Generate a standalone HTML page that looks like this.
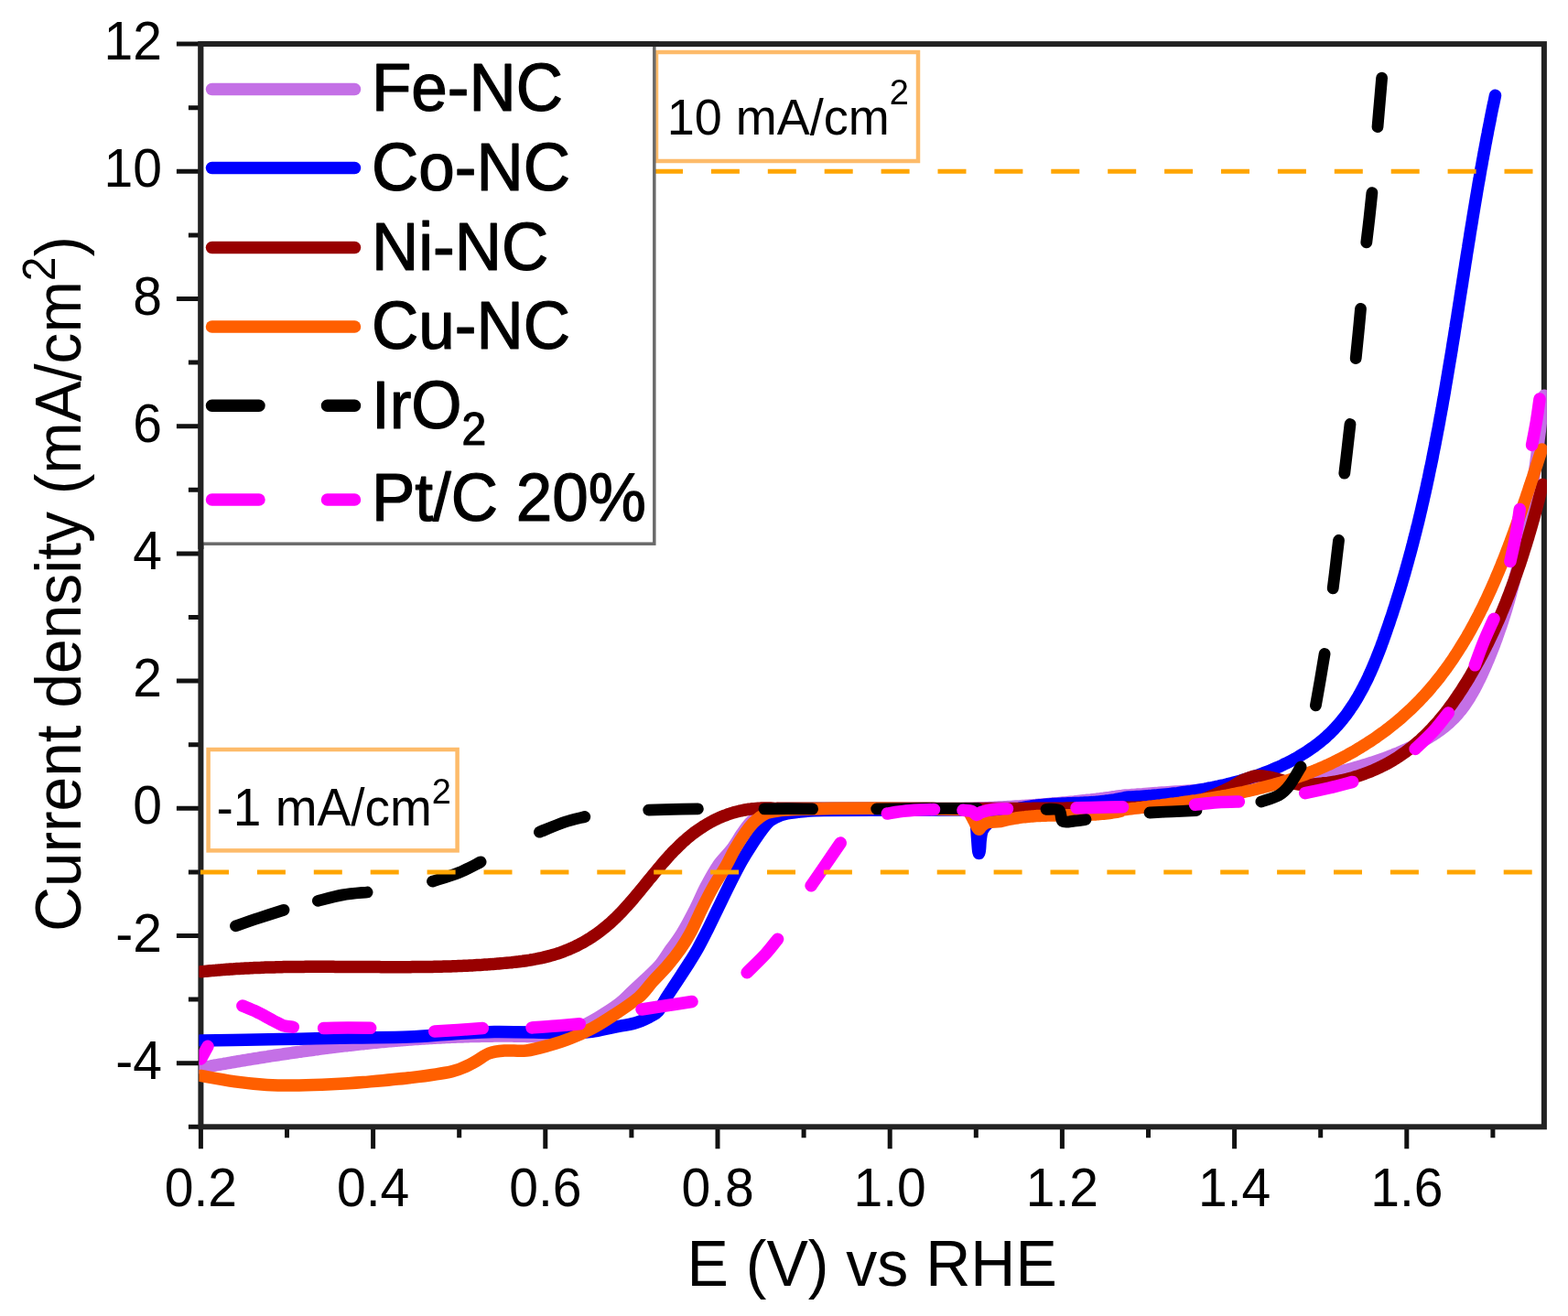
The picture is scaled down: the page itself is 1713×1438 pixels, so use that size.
<!DOCTYPE html><html><head><meta charset="utf-8"><title>LSV curves</title><style>html,body{margin:0;padding:0;background:#fff;}svg{display:block;}</style></head><body>
<svg width="1713" height="1438" viewBox="0 0 1713 1438" font-family="'Liberation Sans', Arial, Helvetica, sans-serif">
<rect width="1713" height="1438" fill="#fff"/>
<path d="M205.9 1231.3H219.4 M192.9 1161.7H219.4 M205.9 1092.1H219.4 M192.9 1022.5H219.4 M205.9 952.9H219.4 M192.9 883.3H219.4 M205.9 813.7H219.4 M192.9 744.1H219.4 M205.9 674.5H219.4 M192.9 604.9H219.4 M205.9 535.3H219.4 M192.9 465.7H219.4 M205.9 396.1H219.4 M192.9 326.5H219.4 M205.9 256.9H219.4 M192.9 187.3H219.4 M205.9 117.7H219.4 M192.9 48.1H219.4 M219.4 1231.3V1255.3 M313.5 1231.3V1243.3 M407.6 1231.3V1255.3 M501.7 1231.3V1243.3 M595.8 1231.3V1255.3 M689.9 1231.3V1243.3 M784.0 1231.3V1255.3 M878.1 1231.3V1243.3 M972.2 1231.3V1255.3 M1066.3 1231.3V1243.3 M1160.4 1231.3V1255.3 M1254.5 1231.3V1243.3 M1348.6 1231.3V1255.3 M1442.7 1231.3V1243.3 M1536.8 1231.3V1255.3 M1630.9 1231.3V1243.3" stroke="#111" stroke-width="5" fill="none"/>
<rect x="219.4" y="48.1" width="1467.5" height="1183.2" fill="none" stroke="#222" stroke-width="6"/>
<g font-size="57" fill="#000"><text transform="translate(177,1178.7) scale(1,1.04)" text-anchor="end">-4</text><text transform="translate(177,1039.5) scale(1,1.04)" text-anchor="end">-2</text><text transform="translate(177,900.3) scale(1,1.04)" text-anchor="end">0</text><text transform="translate(177,761.1) scale(1,1.04)" text-anchor="end">2</text><text transform="translate(177,621.9) scale(1,1.04)" text-anchor="end">4</text><text transform="translate(177,482.7) scale(1,1.04)" text-anchor="end">6</text><text transform="translate(177,343.5) scale(1,1.04)" text-anchor="end">8</text><text transform="translate(177,204.3) scale(1,1.04)" text-anchor="end">10</text><text transform="translate(177,65.1) scale(1,1.04)" text-anchor="end">12</text><text transform="translate(219.4,1317.5) scale(1,1.04)" text-anchor="middle">0.2</text><text transform="translate(407.6,1317.5) scale(1,1.04)" text-anchor="middle">0.4</text><text transform="translate(595.8,1317.5) scale(1,1.04)" text-anchor="middle">0.6</text><text transform="translate(784.0,1317.5) scale(1,1.04)" text-anchor="middle">0.8</text><text transform="translate(972.2,1317.5) scale(1,1.04)" text-anchor="middle">1.0</text><text transform="translate(1160.4,1317.5) scale(1,1.04)" text-anchor="middle">1.2</text><text transform="translate(1348.6,1317.5) scale(1,1.04)" text-anchor="middle">1.4</text><text transform="translate(1536.8,1317.5) scale(1,1.04)" text-anchor="middle">1.6</text></g>
<text transform="translate(952.7,1405) scale(1,1.04)" font-size="68" text-anchor="middle" fill="#000">E (V) vs RHE</text>
<text transform="translate(87.5,638) rotate(-90) scale(1,1.04)" font-size="67.7" text-anchor="middle" fill="#000">Current density (mA/cm<tspan font-size="48" dy="-26">2</tspan><tspan dy="26">)</tspan></text>
<defs><clipPath id="pc"><rect x="217.4" y="46.1" width="1472.5" height="1187.2"/></clipPath></defs>
<g clip-path="url(#pc)" fill="none" stroke-linecap="round" stroke-linejoin="round" stroke-width="13.5">
<path d="M219.5 1166.9 L221.5 1166.5 L223.5 1166.1 L225.5 1165.8 L227.6 1165.4 L229.6 1165.1 L231.6 1164.7 L233.6 1164.3 L235.6 1164.0 L237.6 1163.6 L239.6 1163.3 L241.6 1162.9 L243.7 1162.6 L245.7 1162.2 L247.7 1161.9 L249.7 1161.5 L251.7 1161.2 L253.7 1160.8 L255.7 1160.5 L257.8 1160.1 L259.8 1159.8 L261.8 1159.5 L263.8 1159.1 L265.8 1158.8 L267.8 1158.5 L269.8 1158.1 L271.9 1157.8 L273.9 1157.5 L275.9 1157.1 L277.9 1156.8 L279.9 1156.5 L281.9 1156.2 L283.9 1155.8 L285.9 1155.5 L288.0 1155.2 L290.0 1154.9 L292.0 1154.6 L294.0 1154.2 L296.0 1153.9 L298.0 1153.6 L300.0 1153.3 L302.1 1153.0 L304.1 1152.7 L306.1 1152.4 L308.1 1152.1 L310.1 1151.8 L312.1 1151.5 L314.1 1151.2 L316.2 1150.9 L318.2 1150.6 L320.2 1150.3 L322.2 1150.0 L324.2 1149.7 L326.2 1149.4 L328.2 1149.2 L330.2 1148.9 L332.3 1148.6 L334.3 1148.3 L336.3 1148.0 L338.3 1147.8 L340.3 1147.5 L342.3 1147.2 L344.3 1146.9 L346.4 1146.7 L348.4 1146.4 L350.4 1146.1 L352.4 1145.9 L354.4 1145.6 L356.4 1145.4 L358.4 1145.1 L360.5 1144.9 L362.5 1144.6 L364.5 1144.4 L366.5 1144.1 L368.5 1143.9 L370.5 1143.6 L372.5 1143.4 L374.5 1143.1 L376.6 1142.9 L378.6 1142.7 L380.6 1142.4 L382.6 1142.2 L384.6 1142.0 L386.6 1141.7 L388.6 1141.5 L390.7 1141.3 L392.7 1141.1 L394.7 1140.9 L396.7 1140.7 L398.7 1140.4 L400.7 1140.2 L402.7 1140.0 L404.8 1139.8 L406.8 1139.6 L408.8 1139.4 L410.8 1139.2 L412.8 1139.0 L414.8 1138.8 L416.8 1138.6 L418.8 1138.5 L420.9 1138.3 L422.9 1138.1 L424.9 1137.9 L426.9 1137.7 L428.9 1137.5 L430.9 1137.4 L432.9 1137.2 L435.0 1137.0 L437.0 1136.9 L439.0 1136.7 L441.0 1136.5 L443.0 1136.4 L445.0 1136.2 L447.0 1136.1 L449.0 1135.9 L451.1 1135.8 L453.1 1135.6 L455.1 1135.5 L457.1 1135.4 L459.1 1135.2 L461.1 1135.1 L463.1 1135.0 L465.2 1134.8 L467.2 1134.7 L469.2 1134.6 L471.2 1134.5 L473.2 1134.3 L475.2 1134.2 L477.2 1134.1 L479.3 1134.0 L481.3 1133.9 L483.3 1133.8 L485.3 1133.7 L487.3 1133.6 L489.3 1133.5 L491.3 1133.4 L493.3 1133.3 L495.4 1133.2 L497.4 1133.2 L499.4 1133.1 L501.4 1133.0 L503.4 1132.9 L505.4 1132.9 L507.4 1132.8 L509.5 1132.7 L511.5 1132.7 L513.5 1132.6 L515.5 1132.6 L517.5 1132.5 L519.5 1132.5 L521.5 1132.4 L523.6 1132.4 L525.6 1132.3 L527.6 1132.3 L529.6 1132.3 L531.6 1132.2 L533.6 1132.2 L535.6 1132.2 L537.6 1132.2 L539.7 1132.1 L541.7 1132.1 L543.7 1132.1 L545.7 1132.1 L547.7 1132.1 L549.7 1132.1 L551.7 1132.1 L553.8 1132.1 L555.8 1132.1 L557.8 1132.1 L559.8 1132.1 L561.8 1132.2 L563.8 1132.2 L565.8 1132.2 L567.9 1132.2 L569.9 1132.3 L571.9 1132.3 L573.9 1132.3 L575.9 1132.4 L577.9 1132.4 L579.9 1132.5 L581.9 1132.5 L584.0 1132.6 L586.0 1132.7 L588.0 1132.7 L590.0 1132.8 M590.0 1132.5 C593.0 1132.2 601.3 1132.4 608.0 1131.0 C614.7 1129.6 622.5 1127.2 630.0 1124.0 C637.5 1120.8 645.3 1116.5 653.0 1112.0 C660.7 1107.5 669.8 1101.7 676.0 1097.0 C682.2 1092.3 685.3 1088.3 690.0 1084.0 C694.7 1079.7 698.9 1075.8 704.0 1071.0 C709.1 1066.2 715.6 1060.6 720.4 1055.0 C725.2 1049.4 728.5 1043.3 732.6 1037.5 C736.7 1031.7 740.4 1027.5 744.9 1020.0 C749.4 1012.5 755.5 1001.0 759.8 992.5 C764.1 984.0 766.8 977.0 770.9 969.2 C775.0 961.4 779.7 952.6 784.4 945.8 C789.1 939.0 794.6 934.2 799.0 928.4 C803.4 922.6 807.2 915.7 810.5 910.9 C813.8 906.1 816.2 902.6 819.0 899.5 C821.8 896.4 824.2 894.4 827.0 892.5 C829.8 890.6 832.5 889.2 836.0 888.0 C839.5 886.8 842.3 886.1 848.0 885.5 C853.7 884.9 861.3 884.8 870.0 884.5 C878.7 884.2 895.0 884.1 900.0 884.0 M900.0 883.8 L902.0 883.9 L904.0 883.9 L906.0 884.0 L908.0 884.0 L910.1 884.1 L912.1 884.1 L914.1 884.1 L916.1 884.2 L918.1 884.2 L920.1 884.2 L922.1 884.3 L924.1 884.3 L926.2 884.4 L928.2 884.4 L930.2 884.4 L932.2 884.4 L934.2 884.5 L936.2 884.5 L938.2 884.5 L940.2 884.6 L942.3 884.6 L944.3 884.6 L946.3 884.6 L948.3 884.6 L950.3 884.7 L952.3 884.7 L954.3 884.7 L956.3 884.7 L958.4 884.7 L960.4 884.7 L962.4 884.8 L964.4 884.8 L966.4 884.8 L968.4 884.8 L970.4 884.8 L972.4 884.8 L974.5 884.8 L976.5 884.8 L978.5 884.8 L980.5 884.8 L982.5 884.8 L984.5 884.8 L986.5 884.8 L988.5 884.8 L990.5 884.8 L992.6 884.8 L994.6 884.8 L996.6 884.7 L998.6 884.7 L1000.6 884.7 L1002.6 884.7 L1004.6 884.7 L1006.6 884.7 L1008.7 884.6 L1010.7 884.6 L1012.7 884.6 L1014.7 884.6 L1016.7 884.5 L1018.7 884.5 L1020.7 884.5 L1022.7 884.4 L1024.8 884.4 L1026.8 884.4 L1028.8 884.3 L1030.8 884.3 L1032.8 884.2 L1034.8 884.2 L1036.8 884.2 L1038.8 884.1 L1040.9 884.1 L1042.9 884.0 L1044.9 883.9 L1046.9 883.9 L1048.9 883.8 L1050.9 883.8 L1052.9 883.7 L1054.9 883.6 L1057.0 883.6 L1059.0 883.5 L1061.0 883.4 L1063.0 883.4 L1065.0 883.3 L1067.0 883.2 L1069.0 883.1 L1071.0 883.1 L1073.0 883.0 L1075.1 882.9 L1077.1 882.8 L1079.1 882.7 L1081.1 882.6 L1083.1 882.5 L1085.1 882.4 L1087.1 882.3 L1089.1 882.2 L1091.2 882.1 L1093.2 882.0 L1095.2 881.9 L1097.2 881.8 L1099.2 881.7 L1101.2 881.6 L1103.2 881.5 L1105.2 881.4 L1107.3 881.2 L1109.3 881.1 L1111.3 881.0 L1113.3 880.9 L1115.3 880.7 L1117.3 880.6 L1119.3 880.5 L1121.3 880.3 L1123.4 880.2 L1125.4 880.0 L1127.4 879.9 L1129.4 879.8 L1131.4 879.6 L1133.4 879.5 L1135.4 879.3 L1137.4 879.1 L1139.5 879.0 L1141.5 878.8 L1143.5 878.7 L1145.5 878.5 L1147.5 878.3 L1149.5 878.1 L1151.5 878.0 L1153.5 877.8 L1155.5 877.6 L1157.6 877.4 L1159.6 877.2 L1161.6 877.0 L1163.6 876.9 L1165.6 876.7 L1167.6 876.5 L1169.6 876.3 L1171.6 876.1 L1173.7 875.9 L1175.7 875.6 L1177.7 875.4 L1179.7 875.2 L1181.7 875.0 L1183.7 874.8 L1185.7 874.6 L1187.7 874.3 L1189.8 874.1 L1191.8 873.9 L1193.8 873.6 L1195.8 873.4 L1197.8 873.2 L1199.8 872.9 L1201.8 872.7 L1203.8 872.4 L1205.9 872.2 L1207.9 871.9 L1209.9 871.6 L1211.9 871.4 L1213.9 871.1 L1215.9 870.8 L1217.9 870.6 L1219.9 870.3 L1222.0 870.0 L1224.0 869.7 L1226.0 869.5 L1228.0 869.2 L1230.0 868.9 M1229.8 869.1 L1232.9 868.9 L1235.9 868.6 L1238.9 868.4 L1242.0 868.1 L1245.0 867.9 L1248.1 867.7 L1251.1 867.4 L1254.1 867.2 L1257.2 867.0 L1260.2 866.8 L1263.2 866.6 L1266.3 866.3 L1269.3 866.1 L1272.3 865.9 L1275.4 865.7 L1278.4 865.5 L1281.4 865.3 L1284.5 865.1 L1287.5 864.9 L1290.5 864.7 L1293.5 864.5 L1296.6 864.3 L1299.6 864.1 L1302.6 863.9 L1305.6 863.7 L1308.6 863.5 L1311.7 863.3 L1314.7 863.1 L1317.7 862.9 L1320.7 862.7 L1323.7 862.5 L1326.7 862.2 L1329.7 862.0 L1332.7 861.8 L1335.7 861.6 L1338.7 861.3 L1341.8 861.1 L1344.8 860.8 L1347.8 860.6 L1350.8 860.3 L1353.8 860.1 L1356.8 859.8 L1359.7 859.5 L1362.7 859.2 L1365.7 858.9 L1368.7 858.6 L1371.7 858.3 L1374.7 858.0 L1377.7 857.7 L1380.7 857.4 L1383.7 857.0 L1386.6 856.7 L1389.6 856.3 L1392.6 855.9 L1395.6 855.6 L1398.5 855.2 L1401.5 854.8 L1404.5 854.3 L1407.5 853.9 L1410.4 853.5 L1413.4 853.0 L1416.4 852.6 L1419.3 852.1 L1422.3 851.6 L1425.2 851.1 L1428.2 850.6 L1431.1 850.1 L1434.1 849.5 L1437.0 849.0 L1440.0 848.4 L1442.9 847.8 L1445.9 847.2 L1448.8 846.6 L1451.8 845.9 L1454.7 845.3 L1457.6 844.6 L1460.6 843.9 L1463.5 843.2 L1466.4 842.5 L1469.4 841.7 L1472.3 841.0 L1475.2 840.2 L1478.1 839.4 L1481.1 838.6 L1484.0 837.8 L1486.9 836.9 L1489.8 836.0 L1492.7 835.1 L1495.6 834.2 L1498.5 833.3 L1501.4 832.3 L1504.3 831.3 L1507.2 830.3 L1510.1 829.3 L1513.0 828.3 L1515.9 827.2 L1518.8 826.1 L1521.7 825.0 L1524.5 823.8 L1527.4 822.7 L1530.2 821.5 L1533.1 820.2 L1535.9 819.0 L1538.7 817.7 L1541.5 816.4 L1544.2 815.1 L1547.0 813.7 L1549.7 812.3 L1552.4 810.9 L1555.1 809.4 L1557.7 807.9 L1560.3 806.4 L1562.9 804.8 L1565.4 803.2 L1567.9 801.6 L1570.4 799.9 L1572.8 798.2 L1575.2 796.5 L1577.5 794.7 L1579.8 792.8 L1582.0 790.9 L1584.2 788.9 L1586.3 786.9 L1588.4 784.9 L1590.4 782.7 L1592.3 780.6 L1594.2 778.3 L1596.1 776.1 L1597.9 773.7 L1599.6 771.4 L1601.3 768.9 L1602.9 766.5 L1604.5 764.0 L1606.1 761.5 L1607.6 758.9 L1609.1 756.3 L1610.6 753.7 L1612.0 751.1 L1613.4 748.4 L1614.7 745.7 L1616.1 743.0 L1617.4 740.3 L1618.7 737.6 L1619.9 734.8 L1621.2 732.0 L1622.4 729.3 L1623.6 726.5 L1624.8 723.7 L1626.0 721.0 L1627.1 718.2 L1628.3 715.4 L1629.4 712.6 L1630.5 709.8 L1631.6 707.0 L1632.7 704.1 L1633.7 701.3 L1634.8 698.5 L1635.8 695.6 L1636.8 692.8 L1637.8 689.9 L1638.8 687.1 L1639.8 684.2 L1640.7 681.4 L1641.7 678.5 L1642.6 675.6 L1643.5 672.7 L1644.4 669.9 L1645.3 667.0 L1646.2 664.1 L1647.0 661.2 L1647.9 658.3 L1648.7 655.4 L1649.5 652.5 L1650.3 649.6 L1651.1 646.6 L1651.9 643.7 L1652.7 640.8 L1653.4 637.9 L1654.2 634.9 L1654.9 632.0 L1655.6 629.0 L1656.4 626.1 L1657.1 623.2 L1657.8 620.2 L1658.4 617.3 L1659.1 614.3 L1659.8 611.3 L1660.4 608.4 L1661.1 605.4 L1661.7 602.4 L1662.3 599.5 L1662.9 596.5 L1663.5 593.5 L1664.1 590.6 L1664.7 587.6 L1665.3 584.6 L1665.8 581.6 L1666.4 578.6 L1666.9 575.6 L1667.5 572.7 L1668.0 569.7 L1668.5 566.7 L1669.1 563.7 L1669.6 560.7 L1670.1 557.7 L1670.6 554.7 L1671.1 551.7 L1671.5 548.7 L1672.0 545.7 L1672.5 542.7 L1672.9 539.7 L1673.4 536.7 L1673.8 533.7 L1674.3 530.7 L1674.7 527.7 L1675.2 524.7 L1675.6 521.7 L1676.0 518.7 L1676.4 515.7 L1676.9 512.7 L1677.3 509.7 L1677.7 506.7 L1678.1 503.7 L1678.5 500.7 L1678.9 497.8 L1679.2 494.8 L1679.6 491.8 L1680.0 488.8 L1680.4 485.8 L1680.8 482.8 L1681.1 479.8 L1681.5 476.8 L1681.9 473.8 L1682.3 470.9 L1682.6 467.9 L1683.0 464.9 L1683.3 461.9 L1683.7 458.9 L1684.1 456.0 L1684.4 453.0 L1684.8 450.0 L1685.1 447.1 L1685.5 444.1 L1685.8 441.1 L1686.2 438.2 L1686.5 435.2 L1686.9 432.3" stroke="#C470E6"/>
<path d="M219.5 1136.9 C227.7 1136.8 250.5 1136.6 268.4 1136.3 C286.3 1136.0 307.4 1135.6 326.8 1135.2 C346.2 1134.8 365.1 1134.4 385.1 1134.0 C405.1 1133.6 428.6 1133.7 446.7 1133.0 C464.8 1132.3 477.8 1130.9 493.4 1130.0 C509.0 1129.1 522.3 1127.8 540.1 1127.5 C557.9 1127.2 586.2 1128.3 600.0 1128.5 C613.8 1128.7 615.2 1129.0 623.0 1128.8 C630.8 1128.6 638.9 1128.3 646.7 1127.3 C654.5 1126.3 662.2 1124.1 670.0 1122.6 C677.8 1121.0 686.7 1119.9 693.4 1118.0 C700.1 1116.1 705.7 1113.2 710.0 1111.0 C714.3 1108.8 716.1 1108.3 719.0 1105.0 C721.9 1101.7 724.0 1096.4 727.4 1091.0 C730.8 1085.6 735.7 1078.5 739.6 1072.5 C743.5 1066.5 747.3 1060.8 751.0 1055.0 C754.7 1049.2 758.3 1043.7 761.8 1037.5 C765.3 1031.3 768.2 1025.5 772.0 1018.0 C775.8 1010.5 780.4 1000.6 784.4 992.5 C788.4 984.4 791.8 977.0 795.7 969.2 C799.6 961.4 804.0 952.6 807.7 945.8 C811.4 939.0 814.4 934.2 818.0 928.4 C821.6 922.6 826.1 915.8 829.6 910.9 C833.1 906.0 835.8 902.1 838.7 899.2 C841.6 896.3 843.5 895.1 847.0 893.4 C850.5 891.7 854.5 890.1 860.0 889.0 C865.5 887.9 873.3 887.1 880.0 886.5 C886.7 885.9 880.0 885.8 900.0 885.5 C920.0 885.2 973.7 885.1 1000.0 885.0 C1026.3 884.9 1048.3 885.0 1058.0 885.0 M1058.0 885.0 C1058.8 885.3 1061.7 885.0 1063.0 887.0 C1064.3 889.0 1065.2 892.3 1066.0 897.0 C1066.8 901.7 1067.1 909.8 1067.5 915.0 C1067.9 920.2 1068.2 925.1 1068.5 928.0 C1068.8 930.9 1069.2 932.5 1069.5 932.5 C1069.8 932.5 1070.2 930.4 1070.5 928.0 C1070.8 925.6 1070.8 921.3 1071.2 918.0 C1071.6 914.7 1071.9 910.8 1073.0 908.0 C1074.1 905.2 1075.8 903.1 1078.0 901.0 C1080.2 898.9 1083.2 897.5 1086.0 895.5 C1088.8 893.5 1093.5 890.1 1095.0 889.0 M1095.0 888.7 L1097.0 888.0 L1099.1 887.3 L1101.1 886.6 L1103.2 886.0 L1105.2 885.4 L1107.3 884.9 L1109.3 884.3 L1111.4 883.8 L1113.4 883.4 L1115.5 882.9 L1117.5 882.5 L1119.5 882.1 L1121.6 881.8 L1123.6 881.4 L1125.7 881.1 L1127.7 880.8 L1129.8 880.5 L1131.8 880.3 L1133.9 880.0 L1135.9 879.8 L1138.0 879.6 L1140.0 879.4 L1142.0 879.2 L1144.1 879.0 L1146.1 878.9 L1148.2 878.7 L1150.2 878.6 L1152.3 878.5 L1154.3 878.4 L1156.4 878.3 L1158.4 878.2 L1160.5 878.1 L1162.5 878.0 L1164.5 877.9 L1166.6 877.8 L1168.6 877.8 L1170.7 877.7 L1172.7 877.6 L1174.8 877.5 L1176.8 877.4 L1178.9 877.4 L1180.9 877.3 L1183.0 877.2 L1185.0 877.1 L1187.0 877.0 L1189.1 876.9 L1191.1 876.7 L1193.2 876.6 L1195.2 876.4 L1197.3 876.3 L1199.3 876.1 L1201.4 875.9 L1203.4 875.7 L1205.5 875.5 L1207.5 875.3 L1209.5 875.0 L1211.6 874.8 L1213.6 874.5 L1215.7 874.2 L1217.7 873.9 L1219.8 873.5 L1221.8 873.1 L1223.9 872.7 L1225.9 872.3 L1228.0 871.9 L1230.0 871.4 M1230.5 871.3 L1233.3 871.1 L1236.2 871.0 L1239.0 870.8 L1241.9 870.6 L1244.8 870.4 L1247.7 870.2 L1250.6 870.0 L1253.5 869.8 L1256.5 869.6 L1259.4 869.3 L1262.3 869.1 L1265.3 868.8 L1268.3 868.5 L1271.2 868.2 L1274.2 867.9 L1277.2 867.6 L1280.1 867.3 L1283.1 866.9 L1286.1 866.6 L1289.1 866.2 L1292.1 865.8 L1295.1 865.4 L1298.1 865.0 L1301.1 864.6 L1304.1 864.1 L1307.1 863.6 L1310.1 863.1 L1313.1 862.6 L1316.1 862.1 L1319.1 861.5 L1322.1 861.0 L1325.1 860.4 L1328.1 859.7 L1331.1 859.1 L1334.1 858.4 L1337.1 857.8 L1340.1 857.1 L1343.1 856.3 L1346.0 855.6 L1349.0 854.8 L1352.0 854.0 L1354.9 853.2 L1357.9 852.3 L1360.9 851.4 L1363.8 850.5 L1366.7 849.6 L1369.7 848.6 L1372.6 847.6 L1375.5 846.6 L1378.4 845.5 L1381.3 844.4 L1384.2 843.3 L1387.0 842.2 L1389.9 841.0 L1392.7 839.8 L1395.6 838.6 L1398.4 837.3 L1401.2 836.0 L1403.9 834.6 L1406.7 833.3 L1409.4 831.9 L1412.2 830.4 L1414.9 829.0 L1417.5 827.5 L1420.2 825.9 L1422.8 824.3 L1425.4 822.7 L1427.9 821.1 L1430.4 819.4 L1432.9 817.7 L1435.4 816.0 L1437.8 814.2 L1440.2 812.4 L1442.5 810.5 L1444.8 808.6 L1447.1 806.7 L1449.3 804.7 L1451.4 802.7 L1453.6 800.7 L1455.7 798.6 L1457.7 796.5 L1459.7 794.3 L1461.7 792.1 L1463.6 789.9 L1465.4 787.7 L1467.3 785.4 L1469.1 783.1 L1470.9 780.8 L1472.6 778.4 L1474.3 776.0 L1475.9 773.6 L1477.6 771.1 L1479.2 768.7 L1480.7 766.2 L1482.3 763.6 L1483.8 761.1 L1485.2 758.5 L1486.7 755.9 L1488.1 753.3 L1489.5 750.7 L1490.8 748.0 L1492.2 745.4 L1493.5 742.7 L1494.8 740.0 L1496.0 737.2 L1497.3 734.5 L1498.5 731.8 L1499.7 729.0 L1500.9 726.2 L1502.0 723.4 L1503.2 720.6 L1504.3 717.8 L1505.4 715.0 L1506.5 712.2 L1507.6 709.3 L1508.7 706.5 L1509.7 703.6 L1510.8 700.8 L1511.8 697.9 L1512.8 695.0 L1513.8 692.2 L1514.8 689.3 L1515.8 686.4 L1516.8 683.6 L1517.8 680.7 L1518.7 677.8 L1519.7 674.9 L1520.7 672.1 L1521.6 669.2 L1522.5 666.3 L1523.5 663.4 L1524.4 660.5 L1525.3 657.6 L1526.2 654.7 L1527.1 651.8 L1528.0 649.0 L1528.9 646.1 L1529.8 643.2 L1530.6 640.3 L1531.5 637.4 L1532.3 634.5 L1533.2 631.6 L1534.0 628.7 L1534.9 625.7 L1535.7 622.8 L1536.5 619.9 L1537.3 617.0 L1538.1 614.1 L1538.9 611.2 L1539.7 608.3 L1540.5 605.4 L1541.3 602.5 L1542.1 599.5 L1542.8 596.6 L1543.6 593.7 L1544.3 590.8 L1545.1 587.8 L1545.8 584.9 L1546.6 582.0 L1547.3 579.1 L1548.0 576.1 L1548.8 573.2 L1549.5 570.3 L1550.2 567.4 L1550.9 564.4 L1551.6 561.5 L1552.3 558.5 L1553.0 555.6 L1553.6 552.7 L1554.3 549.7 L1555.0 546.8 L1555.6 543.9 L1556.3 540.9 L1557.0 538.0 L1557.6 535.0 L1558.3 532.1 L1558.9 529.1 L1559.5 526.2 L1560.2 523.2 L1560.8 520.3 L1561.4 517.3 L1562.0 514.4 L1562.6 511.4 L1563.3 508.5 L1563.9 505.5 L1564.5 502.6 L1565.1 499.6 L1565.6 496.7 L1566.2 493.7 L1566.8 490.7 L1567.4 487.8 L1568.0 484.8 L1568.5 481.9 L1569.1 478.9 L1569.7 475.9 L1570.2 473.0 L1570.8 470.0 L1571.4 467.1 L1571.9 464.1 L1572.5 461.1 L1573.0 458.2 L1573.5 455.2 L1574.1 452.2 L1574.6 449.3 L1575.2 446.3 L1575.7 443.3 L1576.2 440.3 L1576.7 437.4 L1577.3 434.4 L1577.8 431.4 L1578.3 428.5 L1578.8 425.5 L1579.3 422.5 L1579.8 419.5 L1580.3 416.6 L1580.8 413.6 L1581.3 410.6 L1581.8 407.6 L1582.3 404.7 L1582.8 401.7 L1583.3 398.7 L1583.8 395.7 L1584.3 392.8 L1584.8 389.8 L1585.3 386.8 L1585.8 383.8 L1586.3 380.8 L1586.7 377.9 L1587.2 374.9 L1587.7 371.9 L1588.2 368.9 L1588.7 365.9 L1589.1 363.0 L1589.6 360.0 L1590.1 357.0 L1590.5 354.0 L1591.0 351.0 L1591.5 348.1 L1592.0 345.1 L1592.4 342.1 L1592.9 339.1 L1593.4 336.1 L1593.8 333.2 L1594.3 330.2 L1594.8 327.2 L1595.2 324.2 L1595.7 321.2 L1596.2 318.2 L1596.6 315.3 L1597.1 312.3 L1597.6 309.3 L1598.0 306.3 L1598.5 303.3 L1599.0 300.3 L1599.4 297.4 L1599.9 294.4 L1600.4 291.4 L1600.8 288.4 L1601.3 285.4 L1601.8 282.5 L1602.2 279.5 L1602.7 276.5 L1603.2 273.5 L1603.7 270.5 L1604.1 267.6 L1604.6 264.6 L1605.1 261.6 L1605.6 258.6 L1606.0 255.6 L1606.5 252.7 L1607.0 249.7 L1607.5 246.7 L1608.0 243.7 L1608.5 240.7 L1608.9 237.8 L1609.4 234.8 L1609.9 231.8 L1610.4 228.8 L1610.9 225.9 L1611.4 222.9 L1611.9 219.9 L1612.4 216.9 L1612.9 214.0 L1613.4 211.0 L1613.9 208.0 L1614.4 205.0 L1614.9 202.1 L1615.4 199.1 L1616.0 196.1 L1616.5 193.1 L1617.0 190.2 L1617.5 187.2 L1618.0 184.2 L1618.6 181.3 L1619.1 178.3 L1619.6 175.3 L1620.2 172.4 L1620.7 169.4 L1621.3 166.4 L1621.8 163.5 L1622.4 160.5 L1622.9 157.5 L1623.5 154.6 L1624.0 151.6 L1624.6 148.7 L1625.2 145.7 L1625.7 142.7 L1626.3 139.8 L1626.9 136.8 L1627.5 133.9 L1628.1 130.9 L1628.6 128.0 L1629.2 125.0 L1629.8 122.0 L1630.4 119.1 L1631.0 116.1 L1631.7 113.2 L1632.3 110.2 L1632.9 107.3 L1633.5 104.3" stroke="#0000FF"/>
<path d="M219.5 1061.8 L221.5 1061.6 L223.5 1061.4 L225.5 1061.2 L227.5 1061.0 L229.5 1060.8 L231.5 1060.6 L233.6 1060.4 L235.6 1060.3 L237.6 1060.1 L239.6 1059.9 L241.6 1059.8 L243.6 1059.6 L245.6 1059.4 L247.6 1059.3 L249.6 1059.2 L251.6 1059.0 L253.6 1058.9 L255.6 1058.8 L257.7 1058.6 L259.7 1058.5 L261.7 1058.4 L263.7 1058.3 L265.7 1058.2 L267.7 1058.1 L269.7 1058.0 L271.7 1057.9 L273.7 1057.8 L275.7 1057.7 L277.7 1057.6 L279.7 1057.5 L281.7 1057.4 L283.8 1057.4 L285.8 1057.3 L287.8 1057.2 L289.8 1057.1 L291.8 1057.1 L293.8 1057.0 L295.8 1057.0 L297.8 1056.9 L299.8 1056.9 L301.8 1056.8 L303.8 1056.8 L305.8 1056.7 L307.9 1056.7 L309.9 1056.6 L311.9 1056.6 L313.9 1056.6 L315.9 1056.5 L317.9 1056.5 L319.9 1056.5 L321.9 1056.5 L323.9 1056.4 L325.9 1056.4 L327.9 1056.4 L329.9 1056.4 L331.9 1056.4 L334.0 1056.3 L336.0 1056.3 L338.0 1056.3 L340.0 1056.3 L342.0 1056.3 L344.0 1056.3 L346.0 1056.3 L348.0 1056.3 L350.0 1056.3 L352.0 1056.3 L354.0 1056.3 L356.0 1056.3 L358.0 1056.3 L360.1 1056.3 L362.1 1056.3 L364.1 1056.3 L366.1 1056.4 L368.1 1056.4 L370.1 1056.4 L372.1 1056.4 L374.1 1056.4 L376.1 1056.4 L378.1 1056.4 L380.1 1056.4 L382.1 1056.4 L384.2 1056.5 L386.2 1056.5 L388.2 1056.5 L390.2 1056.5 L392.2 1056.5 L394.2 1056.5 L396.2 1056.5 L398.2 1056.6 L400.2 1056.6 L402.2 1056.6 L404.2 1056.6 L406.2 1056.6 L408.2 1056.6 L410.3 1056.6 L412.3 1056.6 L414.3 1056.6 L416.3 1056.7 L418.3 1056.7 L420.3 1056.7 L422.3 1056.7 L424.3 1056.7 L426.3 1056.7 L428.3 1056.7 L430.3 1056.7 L432.3 1056.7 L434.4 1056.7 L436.4 1056.7 L438.4 1056.7 L440.4 1056.7 L442.4 1056.7 L444.4 1056.7 L446.4 1056.7 L448.4 1056.7 L450.4 1056.6 L452.4 1056.6 L454.4 1056.6 L456.4 1056.6 L458.4 1056.6 L460.5 1056.6 L462.5 1056.5 L464.5 1056.5 L466.5 1056.5 L468.5 1056.5 L470.5 1056.4 L472.5 1056.4 L474.5 1056.3 L476.5 1056.3 L478.5 1056.3 L480.5 1056.2 L482.5 1056.2 L484.6 1056.1 L486.6 1056.1 L488.6 1056.0 L490.6 1055.9 L492.6 1055.9 L494.6 1055.8 L496.6 1055.7 L498.6 1055.7 L500.6 1055.6 L502.6 1055.5 L504.6 1055.4 L506.6 1055.3 L508.6 1055.3 L510.7 1055.2 L512.7 1055.1 L514.7 1055.0 L516.7 1054.9 L518.7 1054.7 L520.7 1054.6 L522.7 1054.5 L524.7 1054.4 L526.7 1054.3 L528.7 1054.1 L530.7 1054.0 L532.7 1053.9 L534.8 1053.7 L536.8 1053.6 L538.8 1053.4 L540.8 1053.3 L542.8 1053.1 L544.8 1053.0 L546.8 1052.8 L548.8 1052.6 L550.8 1052.4 L552.8 1052.2 L554.8 1052.1 L556.8 1051.9 L558.8 1051.7 L560.9 1051.4 L562.9 1051.2 L564.9 1051.0 L566.9 1050.8 L568.9 1050.5 L570.9 1050.3 L572.9 1050.0 L574.9 1049.7 L576.9 1049.4 L578.9 1049.1 L580.9 1048.7 L582.9 1048.4 L584.9 1048.0 L587.0 1047.6 L589.0 1047.2 L591.0 1046.8 L593.0 1046.4 L595.0 1045.9 L597.0 1045.4 L599.0 1044.9 L601.0 1044.4 L603.0 1043.8 L605.0 1043.2 L607.0 1042.6 L609.0 1042.0 L611.1 1041.3 L613.1 1040.6 L615.1 1039.9 L617.1 1039.1 L619.1 1038.3 L621.1 1037.5 L623.1 1036.6 L625.1 1035.8 L627.1 1034.8 L629.1 1033.9 L631.1 1032.9 L633.1 1031.8 L635.1 1030.8 L637.2 1029.7 L639.2 1028.5 L641.2 1027.3 L643.2 1026.1 L645.2 1024.8 L647.2 1023.5 L649.2 1022.2 L651.2 1020.8 L653.2 1019.3 L655.2 1017.8 L657.2 1016.3 L659.2 1014.7 L661.3 1013.1 L663.3 1011.4 L665.3 1009.7 L667.3 1007.9 L669.3 1006.1 L671.3 1004.2 L673.3 1002.3 L675.3 1000.3 L677.3 998.2 L679.3 996.2 L681.3 994.0 L683.3 991.8 L685.3 989.6 L687.4 987.3 L689.4 985.0 L691.4 982.7 L693.4 980.3 L695.4 977.9 L697.4 975.5 L699.4 973.1 L701.4 970.6 L703.4 968.2 L705.4 965.7 L707.4 963.2 L709.4 960.8 L711.5 958.3 L713.5 955.9 L715.5 953.4 L717.5 951.0 L719.5 948.6 L721.5 946.2 L723.5 943.8 L725.5 941.5 L727.5 939.2 L729.5 937.0 L731.5 934.7 L733.5 932.6 L735.5 930.4 L737.6 928.4 L739.6 926.4 L741.6 924.4 L743.6 922.5 L745.6 920.6 L747.6 918.8 L749.6 917.1 L751.6 915.3 L753.6 913.7 L755.6 912.1 L757.6 910.5 L759.6 909.0 L761.6 907.6 L763.7 906.2 L765.7 904.8 L767.7 903.5 L769.7 902.2 L771.7 901.0 L773.7 899.8 L775.7 898.7 L777.7 897.6 L779.7 896.5 L781.7 895.5 L783.7 894.6 L785.7 893.7 L787.8 892.8 L789.8 891.9 L791.8 891.2 L793.8 890.4 L795.8 889.7 L797.8 889.0 L799.8 888.4 L801.8 887.8 L803.8 887.2 L805.8 886.7 L807.8 886.2 L809.8 885.8 L811.8 885.4 L813.9 885.0 L815.9 884.6 L817.9 884.3 L819.9 884.1 L821.9 883.8 L823.9 883.6 L825.9 883.4 L827.9 883.3 L829.9 883.2 L831.9 883.1 L833.9 883.1 L835.9 883.0 L838.0 883.0 L840.0 883.1 L842.0 883.1 L844.0 883.2 L846.0 883.4 L848.0 883.5 L850.0 883.7 M850.0 883.3 L853.0 883.3 L856.1 883.3 L859.1 883.3 L862.1 883.2 L865.2 883.2 L868.2 883.2 L871.2 883.2 L874.2 883.2 L877.3 883.2 L880.3 883.2 L883.3 883.2 L886.4 883.2 L889.4 883.2 L892.4 883.2 L895.5 883.2 L898.5 883.2 L901.5 883.2 L904.5 883.2 L907.6 883.2 L910.6 883.2 L913.6 883.2 L916.7 883.2 L919.7 883.2 L922.7 883.2 L925.8 883.2 L928.8 883.2 L931.8 883.2 L934.8 883.2 L937.9 883.2 L940.9 883.2 L943.9 883.2 L947.0 883.2 L950.0 883.2 L953.0 883.2 L956.1 883.2 L959.1 883.2 L962.1 883.2 L965.2 883.2 L968.2 883.2 L971.2 883.2 L974.2 883.2 L977.3 883.2 L980.3 883.3 L983.3 883.3 L986.4 883.3 L989.4 883.3 L992.4 883.3 L995.5 883.3 L998.5 883.3 L1001.5 883.3 L1004.5 883.3 L1007.6 883.3 L1010.6 883.3 L1013.6 883.3 L1016.7 883.3 L1019.7 883.3 L1022.7 883.4 L1025.8 883.4 L1028.8 883.4 L1031.8 883.4 L1034.9 883.4 L1037.9 883.4 L1040.9 883.4 L1043.9 883.4 L1047.0 883.4 L1050.0 883.4 L1053.0 883.4 L1056.1 883.4 L1059.1 883.4 L1062.1 883.4 L1065.2 883.4 L1068.2 883.4 L1071.2 883.4 L1074.2 883.4 L1077.3 883.4 L1080.3 883.4 L1083.3 883.4 L1086.4 883.4 L1089.4 883.4 L1092.4 883.4 L1095.5 883.4 L1098.5 883.4 L1101.5 883.4 L1104.6 883.4 L1107.6 883.4 L1110.6 883.4 L1113.6 883.4 L1116.7 883.4 L1119.7 883.4 L1122.7 883.4 L1125.8 883.4 L1128.8 883.3 L1131.8 883.3 L1134.9 883.3 L1137.9 883.3 L1140.9 883.3 L1143.9 883.3 L1147.0 883.3 L1150.0 883.2 L1153.0 883.2 L1156.1 883.2 L1159.1 883.2 L1162.1 883.2 L1165.2 883.1 L1168.2 883.1 L1171.2 883.1 L1174.2 883.1 L1177.3 883.0 L1180.3 883.0 L1183.3 883.0 L1186.4 883.0 L1189.4 882.9 L1192.4 882.9 L1195.5 882.9 L1198.5 882.8 L1201.5 882.8 L1204.5 882.7 L1207.6 882.7 L1210.6 882.7 L1213.6 882.6 L1216.7 882.6 L1219.7 882.5 L1222.7 882.5 L1225.8 882.4 L1228.8 882.4 L1231.8 882.3 L1234.8 882.3 L1237.9 882.2 L1240.9 882.2 L1243.9 882.1 L1247.0 882.1 L1250.0 882.0 M1250.0 882.0 C1258.3 881.3 1286.7 880.5 1300.0 878.0 C1313.3 875.5 1322.5 870.0 1330.0 867.0 C1337.5 864.0 1340.3 862.4 1345.0 860.0 C1349.7 857.6 1353.5 854.5 1358.0 852.5 C1362.5 850.5 1367.3 848.6 1372.0 848.0 C1376.7 847.4 1381.7 848.3 1386.0 849.0 C1390.3 849.7 1394.0 850.9 1398.0 852.0 C1402.0 853.1 1405.5 854.6 1410.0 855.5 C1414.5 856.4 1419.2 857.4 1425.0 857.5 C1430.8 857.6 1441.7 856.2 1445.0 856.0 M1444.5 856.1 L1447.6 855.7 L1450.6 855.4 L1453.7 854.9 L1456.8 854.4 L1459.8 853.9 L1462.9 853.3 L1465.9 852.7 L1468.9 852.0 L1471.9 851.3 L1474.9 850.5 L1477.9 849.7 L1480.8 848.8 L1483.8 847.9 L1486.7 846.9 L1489.6 845.9 L1492.5 844.8 L1495.3 843.7 L1498.2 842.6 L1501.0 841.4 L1503.8 840.1 L1506.5 838.9 L1509.3 837.5 L1512.0 836.2 L1514.7 834.8 L1517.3 833.3 L1519.9 831.8 L1522.5 830.3 L1525.1 828.7 L1527.6 827.1 L1530.1 825.4 L1532.6 823.7 L1535.1 822.0 L1537.5 820.2 L1539.8 818.4 L1542.2 816.6 L1544.5 814.7 L1546.8 812.8 L1549.0 810.8 L1551.3 808.9 L1553.4 806.8 L1555.6 804.8 L1557.8 802.7 L1559.9 800.6 L1561.9 798.5 L1564.0 796.3 L1566.0 794.1 L1568.0 791.9 L1570.0 789.7 L1572.0 787.4 L1573.9 785.1 L1575.8 782.8 L1577.7 780.5 L1579.6 778.1 L1581.4 775.7 L1583.2 773.3 L1585.0 770.9 L1586.8 768.5 L1588.5 766.0 L1590.2 763.5 L1592.0 761.0 L1593.6 758.5 L1595.3 756.0 L1597.0 753.5 L1598.6 750.9 L1600.2 748.3 L1601.8 745.8 L1603.4 743.2 L1605.0 740.6 L1606.5 738.0 L1608.0 735.4 L1609.5 732.7 L1611.0 730.1 L1612.5 727.5 L1614.0 724.8 L1615.4 722.2 L1616.9 719.5 L1618.3 716.8 L1619.7 714.1 L1621.1 711.4 L1622.5 708.7 L1623.8 706.0 L1625.2 703.3 L1626.5 700.6 L1627.8 697.9 L1629.1 695.1 L1630.4 692.4 L1631.7 689.6 L1633.0 686.9 L1634.2 684.1 L1635.4 681.3 L1636.7 678.6 L1637.9 675.8 L1639.1 673.0 L1640.2 670.2 L1641.4 667.4 L1642.6 664.6 L1643.7 661.8 L1644.9 659.0 L1646.0 656.1 L1647.1 653.3 L1648.2 650.5 L1649.3 647.7 L1650.3 644.8 L1651.4 642.0 L1652.4 639.1 L1653.5 636.3 L1654.5 633.4 L1655.5 630.6 L1656.5 627.7 L1657.5 624.8 L1658.5 622.0 L1659.5 619.1 L1660.5 616.2 L1661.4 613.4 L1662.4 610.5 L1663.3 607.6 L1664.2 604.7 L1665.1 601.8 L1666.0 598.9 L1666.9 596.1 L1667.8 593.2 L1668.7 590.3 L1669.6 587.4 L1670.4 584.5 L1671.3 581.6 L1672.1 578.7 L1673.0 575.8 L1673.8 572.9 L1674.6 570.0 L1675.4 567.1 L1676.2 564.2 L1677.0 561.3 L1677.8 558.4 L1678.6 555.5 L1679.4 552.6 L1680.1 549.7 L1680.9 546.8 L1681.6 543.9 L1682.4 541.0 L1683.1 538.1 L1683.9 535.2 L1684.6 532.3 L1685.3 529.4" stroke="#980000"/>
<path d="M219.5 1175.4 C225.7 1176.5 244.7 1180.2 256.7 1181.9 C268.7 1183.6 280.0 1184.7 291.7 1185.4 C303.4 1186.1 315.1 1186.1 326.8 1186.0 C338.5 1185.9 350.1 1185.4 361.8 1184.8 C373.5 1184.2 382.7 1183.7 396.8 1182.5 C410.9 1181.3 430.6 1179.8 446.7 1177.8 C462.8 1175.8 481.7 1173.5 493.4 1170.8 C505.1 1168.1 510.0 1164.7 516.8 1161.4 C523.6 1158.1 528.5 1153.2 534.3 1151.0 C540.1 1148.8 545.0 1148.5 551.8 1148.0 C558.6 1147.5 567.1 1149.0 575.1 1148.0 C583.1 1147.0 592.0 1144.4 600.0 1142.2 C608.0 1140.0 615.6 1137.7 623.4 1134.6 C631.2 1131.5 638.9 1128.0 646.7 1123.8 C654.5 1119.6 661.5 1115.1 670.0 1109.5 C678.5 1103.9 690.4 1096.2 697.6 1090.0 C704.8 1083.8 707.8 1078.3 713.1 1072.5 C718.4 1066.7 724.4 1060.8 729.4 1055.0 C734.4 1049.2 738.8 1043.7 743.1 1037.5 C747.4 1031.3 751.0 1025.5 755.0 1018.0 C759.0 1010.5 763.1 1000.6 767.1 992.5 C771.1 984.4 774.7 977.0 779.1 969.2 C783.5 961.4 789.5 952.6 793.4 945.8 C797.3 939.0 799.1 934.2 802.5 928.4 C805.9 922.6 810.2 915.8 813.6 910.9 C817.0 906.0 820.2 902.1 822.9 899.2 C825.5 896.3 827.0 895.2 829.5 893.4 C832.0 891.6 834.6 889.7 838.0 888.5 C841.4 887.3 844.7 886.7 850.0 886.0 C855.3 885.3 853.3 885.0 870.0 884.5 C886.7 884.0 920.0 883.3 950.0 883.3 C980.0 883.3 1033.3 884.3 1050.0 884.5 M1050.0 884.5 C1051.3 884.9 1055.7 884.9 1058.0 887.0 C1060.3 889.1 1062.2 893.8 1064.0 897.0 C1065.8 900.2 1067.5 905.2 1069.0 906.0 C1070.5 906.8 1071.2 903.2 1073.0 902.0 C1074.8 900.8 1076.6 899.2 1080.0 898.5 C1083.4 897.8 1091.2 897.7 1093.4 897.5 M1093.4 897.5 L1095.4 897.0 L1097.5 896.5 L1099.5 896.0 L1101.6 895.5 L1103.6 895.1 L1105.6 894.7 L1107.7 894.4 L1109.7 894.0 L1111.8 893.7 L1113.8 893.4 L1115.8 893.1 L1117.9 892.9 L1119.9 892.7 L1122.0 892.4 L1124.0 892.3 L1126.1 892.1 L1128.1 891.9 L1130.1 891.8 L1132.2 891.6 L1134.2 891.5 L1136.3 891.4 L1138.3 891.3 L1140.3 891.2 L1142.4 891.2 L1144.4 891.1 L1146.5 891.1 L1148.5 891.0 L1150.5 891.0 L1152.6 890.9 L1154.6 890.9 L1156.7 890.9 L1158.7 890.9 L1160.7 890.9 L1162.8 890.8 L1164.8 890.8 L1166.9 890.8 L1168.9 890.8 L1170.9 890.8 L1173.0 890.7 L1175.0 890.7 L1177.1 890.7 L1179.1 890.6 L1181.1 890.6 L1183.2 890.5 L1185.2 890.5 L1187.3 890.4 L1189.3 890.3 L1191.3 890.2 L1193.4 890.1 L1195.4 890.0 L1197.5 889.9 L1199.5 889.7 L1201.6 889.6 L1203.6 889.4 L1205.6 889.2 L1207.7 889.0 L1209.7 888.8 L1211.8 888.5 L1213.8 888.2 L1215.8 887.9 L1217.9 887.6 L1219.9 887.3 L1222.0 886.9 L1224.0 886.5 M1224.1 885.2 L1227.0 884.9 L1229.9 884.5 L1232.8 884.1 L1235.7 883.8 L1238.6 883.4 L1241.5 883.1 L1244.4 882.7 L1247.4 882.4 L1250.3 882.0 L1253.3 881.7 L1256.2 881.3 L1259.2 881.0 L1262.1 880.6 L1265.1 880.2 L1268.1 879.9 L1271.1 879.5 L1274.1 879.1 L1277.1 878.7 L1280.1 878.3 L1283.1 878.0 L1286.1 877.6 L1289.1 877.2 L1292.1 876.7 L1295.1 876.3 L1298.1 875.9 L1301.1 875.5 L1304.1 875.0 L1307.2 874.6 L1310.2 874.1 L1313.2 873.7 L1316.2 873.2 L1319.2 872.7 L1322.3 872.2 L1325.3 871.7 L1328.3 871.2 L1331.3 870.7 L1334.4 870.2 L1337.4 869.6 L1340.4 869.1 L1343.4 868.5 L1346.4 867.9 L1349.4 867.3 L1352.4 866.7 L1355.4 866.1 L1358.4 865.5 L1361.4 864.8 L1364.4 864.1 L1367.4 863.5 L1370.4 862.8 L1373.4 862.0 L1376.4 861.3 L1379.3 860.6 L1382.3 859.8 L1385.3 859.0 L1388.2 858.2 L1391.2 857.4 L1394.1 856.6 L1397.0 855.7 L1400.0 854.9 L1402.9 854.0 L1405.8 853.1 L1408.7 852.1 L1411.6 851.2 L1414.5 850.2 L1417.3 849.2 L1420.2 848.2 L1423.1 847.2 L1425.9 846.1 L1428.8 845.0 L1431.6 843.9 L1434.4 842.8 L1437.2 841.6 L1440.0 840.5 L1442.8 839.3 L1445.5 838.1 L1448.3 836.8 L1451.1 835.6 L1453.8 834.3 L1456.5 833.0 L1459.2 831.7 L1461.9 830.3 L1464.6 828.9 L1467.3 827.5 L1469.9 826.1 L1472.6 824.7 L1475.2 823.2 L1477.8 821.8 L1480.4 820.3 L1483.0 818.7 L1485.6 817.2 L1488.2 815.6 L1490.7 814.0 L1493.2 812.4 L1495.7 810.8 L1498.2 809.2 L1500.7 807.5 L1503.2 805.8 L1505.6 804.1 L1508.1 802.3 L1510.5 800.6 L1512.9 798.8 L1515.3 797.0 L1517.6 795.2 L1520.0 793.3 L1522.3 791.5 L1524.6 789.6 L1526.9 787.7 L1529.2 785.8 L1531.5 783.8 L1533.7 781.8 L1535.9 779.8 L1538.1 777.8 L1540.3 775.8 L1542.4 773.8 L1544.6 771.7 L1546.7 769.6 L1548.8 767.5 L1550.9 765.3 L1552.9 763.2 L1555.0 761.0 L1557.0 758.8 L1559.0 756.6 L1561.0 754.4 L1562.9 752.1 L1564.8 749.8 L1566.7 747.6 L1568.6 745.2 L1570.5 742.9 L1572.4 740.6 L1574.2 738.2 L1576.0 735.8 L1577.8 733.4 L1579.6 731.0 L1581.3 728.6 L1583.1 726.1 L1584.8 723.7 L1586.5 721.2 L1588.2 718.7 L1589.8 716.2 L1591.5 713.6 L1593.1 711.1 L1594.7 708.5 L1596.3 706.0 L1597.9 703.4 L1599.5 700.8 L1601.0 698.2 L1602.6 695.6 L1604.1 692.9 L1605.6 690.3 L1607.1 687.6 L1608.5 685.0 L1610.0 682.3 L1611.4 679.6 L1612.9 676.9 L1614.3 674.2 L1615.7 671.5 L1617.0 668.8 L1618.4 666.0 L1619.8 663.3 L1621.1 660.5 L1622.4 657.8 L1623.8 655.0 L1625.1 652.2 L1626.3 649.4 L1627.6 646.6 L1628.9 643.8 L1630.1 641.0 L1631.4 638.2 L1632.6 635.4 L1633.8 632.6 L1635.0 629.7 L1636.2 626.9 L1637.4 624.1 L1638.6 621.2 L1639.8 618.4 L1640.9 615.5 L1642.0 612.7 L1643.2 609.8 L1644.3 607.0 L1645.4 604.1 L1646.5 601.2 L1647.6 598.4 L1648.7 595.5 L1649.8 592.6 L1650.8 589.8 L1651.9 586.9 L1653.0 584.0 L1654.0 581.1 L1655.0 578.3 L1656.1 575.4 L1657.1 572.5 L1658.1 569.7 L1659.1 566.8 L1660.1 563.9 L1661.1 561.1 L1662.1 558.2 L1663.1 555.4 L1664.1 552.5 L1665.0 549.6 L1666.0 546.8 L1667.0 543.9 L1667.9 541.1 L1668.9 538.3 L1669.8 535.4 L1670.7 532.6 L1671.7 529.8 L1672.6 527.0 L1673.5 524.2 L1674.5 521.4 L1675.4 518.6 L1676.3 515.8 L1677.2 513.0 L1678.1 510.2 L1679.0 507.5 L1679.9 504.7 L1680.8 501.9 L1681.7 499.2 L1682.6 496.5 L1683.5 493.7 L1684.4 491.0" stroke="#FF5F00"/>
<path d="M257.5 1011.8 C261.8 1010.3 274.4 1005.9 283.2 1003.0 C291.9 1000.1 305.5 995.8 310.0 994.3 M347.4 984.4 C351.9 983.3 365.4 979.5 374.3 977.9 C383.2 976.3 396.6 975.5 401.1 975.0 M472.5 963.1 C477.3 961.5 492.6 957.0 501.4 953.5 C510.2 950.0 521.1 943.8 525.1 941.9 M589.4 909.2 C594.0 907.4 608.8 901.1 617.0 898.3 C625.2 895.5 635.2 893.5 638.8 892.5 M708.7 885.1 C713.1 885.0 726.0 884.5 735.0 884.3 C744.0 884.1 757.8 884.0 762.4 883.9 M835.0 883.9 C839.2 883.9 851.2 883.6 860.0 883.6 C868.8 883.6 883.0 883.9 887.6 883.9 M957.7 883.9 C966.4 883.8 991.6 883.6 1010.0 883.5 C1028.4 883.4 1058.3 883.5 1068.0 883.5 M1143.0 884.3 C1145.3 884.5 1154.0 883.3 1157.0 885.5 C1160.0 887.7 1158.2 895.6 1161.0 897.5 C1163.8 899.4 1169.8 897.3 1174.0 897.0 C1178.2 896.7 1184.0 895.8 1186.0 895.5 M1256.0 888.0 C1260.0 887.8 1271.5 887.2 1280.0 886.8 C1288.5 886.4 1302.5 885.7 1307.0 885.5 M1377.9 876.0 C1381.1 874.8 1391.9 872.0 1397.1 869.0 C1402.2 866.0 1404.8 863.2 1408.8 858.0 C1412.8 852.8 1419.0 841.3 1421.1 838.0 M1437.4 770.9 C1438.2 766.1 1440.9 751.4 1442.5 742.0 C1444.1 732.6 1446.3 719.1 1447.1 714.5 M1456.2 642.9 C1456.8 638.4 1458.5 624.8 1459.5 616.0 C1460.5 607.2 1462.0 594.7 1462.5 590.4 M1468.8 517.2 C1469.3 512.7 1471.0 498.9 1472.0 490.0 C1473.0 481.1 1474.5 467.9 1475.0 463.5 M1481.2 391.6 C1481.7 387.0 1483.1 373.1 1484.0 364.0 C1484.9 354.9 1486.1 341.8 1486.5 337.3 M1492.8 264.9 C1493.3 260.4 1495.0 247.1 1496.0 238.0 C1497.0 228.9 1498.4 215.2 1498.9 210.6 M1505.0 138.7 C1505.4 134.2 1506.5 120.9 1507.3 112.0 C1508.1 103.1 1509.2 89.7 1509.6 85.2" stroke="#000000" stroke-width="12.8"/>
<path d="M219.5 1157.0 L227.0 1143.3 M264.9 1099.0 C267.4 1100.1 274.6 1102.8 280.0 1105.4 C285.4 1108.0 292.7 1112.2 297.6 1114.7 C302.5 1117.2 305.4 1119.3 309.2 1120.6 C313.0 1121.9 318.4 1122.0 320.3 1122.3 M353.6 1123.5 C358.0 1123.4 371.5 1123.0 380.0 1123.0 C388.5 1123.0 400.6 1123.2 404.7 1123.3 M474.7 1127.0 C478.9 1126.8 491.2 1126.1 500.0 1125.5 C508.8 1124.9 522.8 1123.8 527.3 1123.5 M581.0 1122.9 C585.5 1122.6 599.3 1121.7 608.0 1121.0 C616.7 1120.3 629.1 1119.2 633.3 1118.8 M701.0 1103.0 C705.8 1102.2 720.8 1099.9 730.0 1098.5 C739.2 1097.1 751.7 1095.2 756.0 1094.5 M816.1 1062.7 C819.5 1059.3 830.9 1048.4 836.5 1042.3 C842.1 1036.2 847.4 1028.9 849.6 1026.2 M886.1 967.8 C888.8 963.9 896.9 952.3 902.2 944.5 C907.6 936.7 915.5 925.0 918.2 921.1 M969.3 889.0 C972.8 888.5 981.5 886.8 990.0 886.0 C998.5 885.2 1015.4 884.8 1020.5 884.5 M1052.0 885.3 C1053.7 885.5 1059.5 885.6 1062.0 886.5 C1064.5 887.4 1065.3 890.3 1067.0 890.5 C1068.7 890.7 1069.0 888.5 1072.0 887.5 C1075.0 886.5 1080.2 885.1 1085.0 884.5 C1089.8 883.9 1097.9 883.9 1100.5 883.8 M1176.0 882.7 C1180.0 882.6 1191.6 882.4 1200.0 882.3 C1208.4 882.1 1222.2 881.9 1226.6 881.8 M1305.5 879.2 C1309.6 878.8 1322.0 877.3 1330.0 876.8 C1338.0 876.3 1349.5 876.1 1353.4 876.0 M1425.7 866.7 C1430.1 865.8 1443.3 863.0 1452.0 861.0 C1460.7 859.0 1473.4 855.5 1477.7 854.4 M1546.1 818.4 C1549.4 815.2 1560.0 805.6 1566.0 799.0 C1572.0 792.4 1579.6 782.2 1582.3 778.9 M1611.3 726.8 C1612.9 722.5 1617.5 709.4 1621.0 701.0 C1624.5 692.6 1630.2 680.3 1632.0 676.2 M1649.9 613.5 C1650.9 608.8 1654.3 594.5 1656.0 585.0 C1657.7 575.5 1659.6 561.2 1660.3 556.5 M1673.6 486.3 C1674.4 481.9 1677.1 468.4 1678.5 460.0 C1679.9 451.6 1681.4 440.0 1682.0 436.0" stroke="#FF00FF" stroke-width="13.5"/>
</g>
<path d="M715 187.3H1686" stroke="#FFA500" stroke-width="5" stroke-dasharray="31 30.9" fill="none"/>
<path d="M219 952.9H1686" stroke="#FFA500" stroke-width="5" stroke-dasharray="31 30.9" fill="none"/>
<rect x="717" y="57" width="286" height="119" fill="none" stroke="#FDBB6A" stroke-width="4.5"/>
<text transform="translate(728.8,147.4) scale(1,1.04)" font-size="54" fill="#000">10 mA/cm<tspan font-size="38" dy="-32">2</tspan></text>
<rect x="227.6" y="819" width="272" height="110.4" fill="none" stroke="#FDBB6A" stroke-width="4.5"/>
<text transform="translate(236.5,902.3) scale(1,1.04)" font-size="55" fill="#000">-1 mA/cm<tspan font-size="38" dy="-23">2</tspan></text>
<rect x="219.4" y="48.1" width="495.4" height="546.1" fill="#fff" stroke="#6a6a6a" stroke-width="3.5"/>
<path d="M219.4 45.1V600.0 M216.4 48.1H720.0" stroke="#222" stroke-width="6" fill="none"/>
<g fill="none" stroke-linecap="round" stroke-width="13.5"><path d="M231.5 97.4H387.5" stroke="#C470E6"/><path d="M231.5 183.4H387.5" stroke="#0000FF"/><path d="M231.5 270.5H387.5" stroke="#980000"/><path d="M231.5 357.0H387.5" stroke="#FF5F00"/><path d="M231.5 443.3H283 M357.5 443.3H387.5" stroke="#000000"/><path d="M231.5 546.0H283 M357.5 546.0H387.5" stroke="#FF00FF"/></g>
<g font-size="71" fill="#000" stroke="#000" stroke-width="1.2" stroke-linejoin="round"><text transform="translate(406,121.4) scale(1,1.04)">Fe-NC</text><text transform="translate(406,208.0) scale(1,1.04)">Co-NC</text><text transform="translate(406,294.8) scale(1,1.04)">Ni-NC</text><text transform="translate(406,381.4) scale(1,1.04)">Cu-NC</text><text transform="translate(406,468.0) scale(1,1.04)">IrO<tspan font-size="48" dy="17">2</tspan></text><text transform="translate(406,568.7) scale(1,1.04)">Pt/C 20%</text></g>
</svg></body></html>
